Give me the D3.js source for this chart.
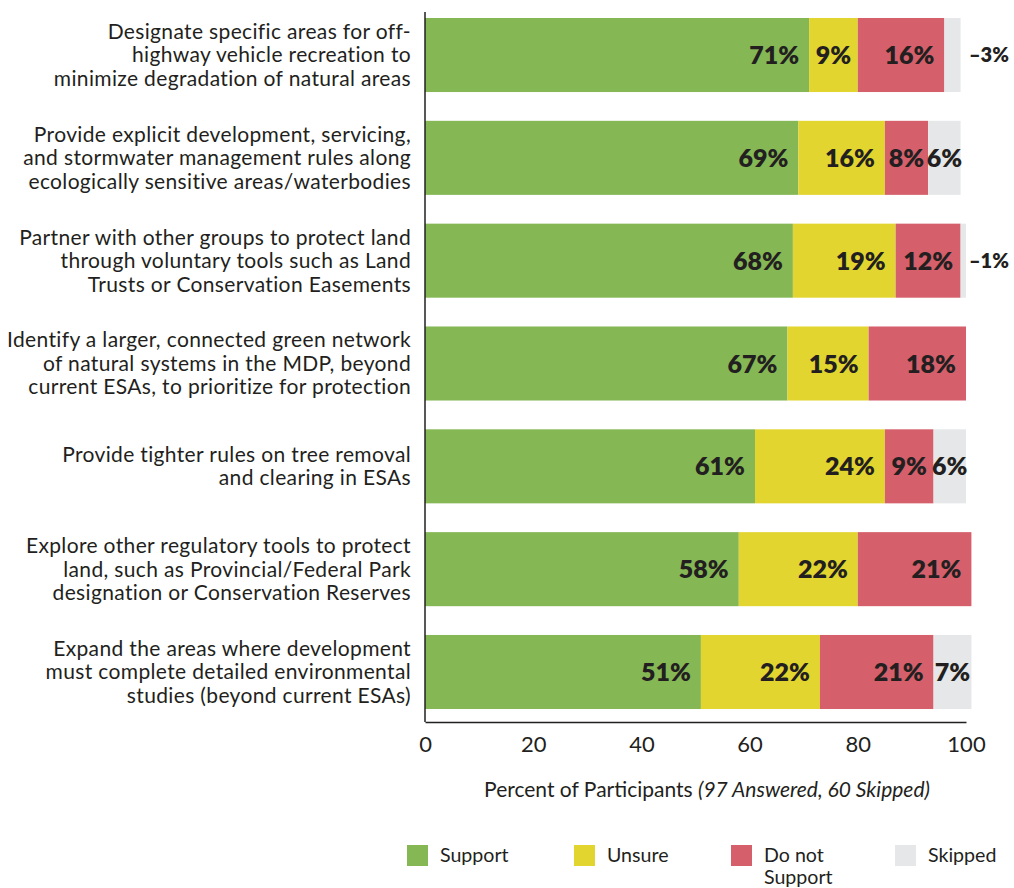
<!DOCTYPE html>
<html>
<head>
<meta charset="utf-8">
<script src="https://cdn.jsdelivr.net/npm/d3@7"></script>
<style>
  html, body { margin: 0; padding: 0; background: #fff; }
  svg { display: block; }
  text { font-family: Lato, "Noto Sans", sans-serif; fill: #231f20; }
  .wrap { font-family: "Liberation Sans", Arial, sans-serif; }
</style>
</head>
<body>
<svg id="chart" width="1014" height="888"></svg>
<script>
// Survey statements (line breaks mark how each label wraps)
const categories = [
  "Designate specific areas for off-\nhighway vehicle recreation to\nminimize degradation of natural areas",
  "Provide explicit development, servicing,\nand stormwater management rules along\necologically sensitive areas/waterbodies",
  "Partner with other groups to protect land\nthrough voluntary tools such as Land\nTrusts or Conservation Easements",
  "Identify a larger, connected green network\nof natural systems in the MDP, beyond\ncurrent ESAs, to prioritize for protection",
  "Provide tighter rules on tree removal\nand clearing in ESAs",
  "Explore other regulatory tools to protect\nland, such as Provincial/Federal Park\ndesignation or Conservation Reserves",
  "Expand the areas where development\nmust complete detailed environmental\nstudies (beyond current ESAs)"
];

// Percent of participants per response
const support    = [71, 69, 68, 67, 61, 58, 51];
const unsure     = [9, 16, 19, 15, 24, 22, 22];
const doNot      = [16, 8, 12, 18, 9, 21, 21];
const skipped    = [3, 6, 1, 0, 6, 0, 7];

const seriesKeys   = ["support", "unsure", "doNot", "skipped"];
const seriesLabels = ["Support", "Unsure", "Do not\nSupport", "Skipped"];
const seriesColors = ["#85b755", "#e2d530", "#d5606b", "#e6e7e8"];

const xTicks = [0, 20, 40, 60, 80, 100];
const axisTitle = "Percent of Participants";
const axisNote = "(97 Answered, 60 Skipped)";

const rows = categories.map((c, i) => ({
  category: c,
  support: support[i], unsure: unsure[i], doNot: doNot[i], skipped: skipped[i]
}));

const svg = d3.select("#chart");

const x = d3.scaleLinear().domain([0, 100]).range([425, 966]);
const y = d3.scaleBand()
  .domain(categories)
  .range([3.6, 723.4])
  .paddingInner(0.28)
  .paddingOuter(0.14);

const color = d3.scaleOrdinal().domain(seriesKeys).range(seriesColors);

const stacked = d3.stack().keys(seriesKeys)(rows);

// Stacked bar segments
const layers = svg.append("g").selectAll("g")
  .data(stacked)
  .join("g")
  .attr("fill", d => color(d.key));

layers.selectAll("rect")
  .data(d => d.map(v => ({ key: d.key, v })))
  .join("rect")
  .attr("x", d => x(d.v[0]))
  .attr("y", d => y(d.v.data.category))
  .attr("width", d => Math.max(0, x(d.v[1]) - x(d.v[0])))
  .attr("height", y.bandwidth());

// Value labels: right-aligned near the segment end, drifting to the
// centre when the segment is too narrow for the usual inset
const labelData = [];
stacked.forEach(layer => {
  layer.forEach(v => {
    const val = v[1] - v[0];
    if (val <= 0) return;
    labelData.push({ key: layer.key, val, v });
  });
});

svg.append("g").selectAll("text")
  .data(labelData.filter(d => !(d.key === "skipped" && d.val < 5)))
  .join("text")
  .attr("y", d => y(d.v.data.category) + y.bandwidth() / 2)
  .attr("dy", "0.36em")
  .attr("text-anchor", "end")
  .attr("font-size", 25)
  .attr("font-weight", 800)
  .text(d => d.val + "%")
  .attr("x", function (d) {
    const w = x(d.v[1]) - x(d.v[0]);
    const tw = this.getComputedTextLength();
    const pad = Math.max(-4, Math.min(10, (w - tw) / 2));
    return x(d.v[1]) - pad;
  });

svg.append("g").selectAll("text")
  .data(labelData.filter(d => d.key === "skipped" && d.val < 5))
  .join("text")
  .attr("x", 969)
  .attr("y", d => y(d.v.data.category) + y.bandwidth() / 2)
  .attr("dy", "0.36em")
  .attr("text-anchor", "start")
  .attr("font-size", 20)
  .attr("font-weight", 800)
  .text(d => "\u2013" + d.val + "%");

// Category labels
const catG = svg.append("g").attr("class", "wrap");
categories.forEach(c => {
  const lines = c.split("\n");
  const lh = 23.5;
  const cy = y(c) + y.bandwidth() / 2;
  const t = catG.append("text")
    .attr("text-anchor", "end")
    .attr("font-size", 21)
    .attr("letter-spacing", 0.35);
  lines.forEach((ln, i) => {
    t.append("tspan")
      .attr("x", 411)
      .attr("y", cy + (i - (lines.length - 1) / 2) * lh)
      .attr("dy", "0.35em")
      .text(ln);
  });
});

// Axes
const xAxis = d3.axisBottom(x).tickValues(xTicks).tickSize(0).tickPadding(14);
const gx = svg.append("g").attr("transform", "translate(0,722)").call(xAxis);
gx.select(".domain").attr("stroke", "#231f20").attr("stroke-width", 1.5);
gx.selectAll(".tick text")
  .attr("font-size", 22)
  .attr("font-family", "Lato, 'Noto Sans', sans-serif")
  .attr("fill", "#231f20");

svg.append("line")
  .attr("x1", 425).attr("x2", 425)
  .attr("y1", 12).attr("y2", 722)
  .attr("stroke", "#231f20").attr("stroke-width", 1.5);

// Axis title
const title = svg.append("text")
  .attr("x", 707)
  .attr("y", 797)
  .attr("text-anchor", "middle")
  .attr("font-size", 21);
title.append("tspan").text(axisTitle + " ");
title.append("tspan").attr("font-style", "italic").text(axisNote);

// Legend
const legendX = [407, 574, 731, 895];
const lg = svg.append("g").attr("class", "wrap");
seriesKeys.forEach((k, i) => {
  lg.append("rect")
    .attr("x", legendX[i]).attr("y", 845)
    .attr("width", 21).attr("height", 21)
    .attr("fill", color(k));
  const t = lg.append("text").attr("font-size", 19.6);
  seriesLabels[i].split("\n").forEach((ln, j) => {
    t.append("tspan")
      .attr("x", legendX[i] + 33)
      .attr("y", 855 + j * 22)
      .attr("dy", "0.35em")
      .text(ln);
  });
});
</script>
</body>
</html>
